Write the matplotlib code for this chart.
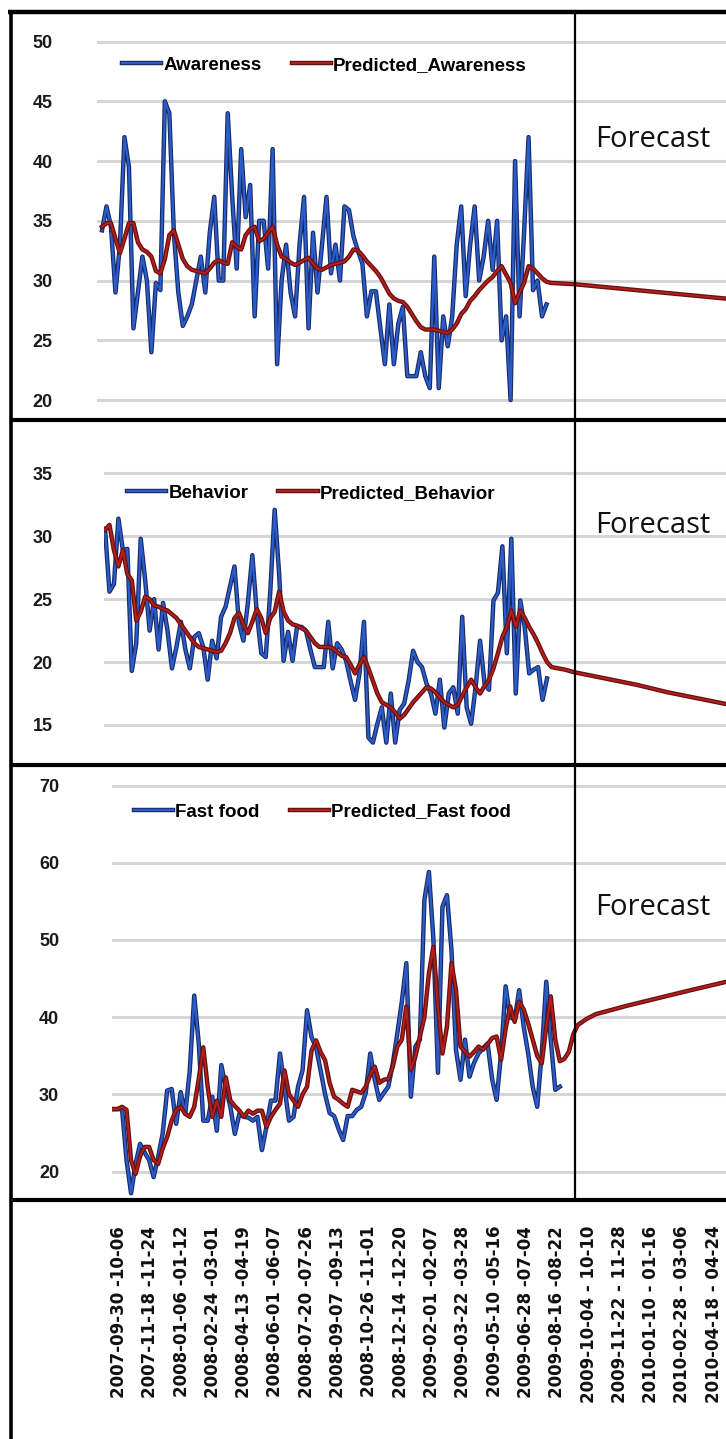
import numpy as np
import matplotlib
matplotlib.use('Agg')
import matplotlib.pyplot as plt
import matplotlib.patheffects as pe
from matplotlib.lines import Line2D

# ---- data (weekly) ----
awareness = [34.2, 36.2, 34.5, 29, 33, 42, 39.5, 26, 29, 32,
             30, 24, 29.8, 29.2, 45, 44, 34, 29, 26.2, 27,
             28, 30, 32, 29, 34, 37, 30, 30, 44, 37,
             31, 41, 35.3, 38, 27, 35, 35, 31, 41, 23,
             30, 33, 29, 27, 33, 37, 26, 34, 29, 33,
             37, 30.6, 33, 30, 36.2, 35.9, 33.7, 32.5, 31.4, 27,
             29.1, 29.1, 26, 23, 28, 23, 26.4, 27.8, 22, 22,
             22, 24, 22, 21, 32, 21, 27, 24.5, 27, 33,
             36.2, 28.7, 33, 36.2, 30, 32, 35, 30.9, 35, 25,
             27, 20, 40, 27, 34, 42, 29.2, 30, 27, 28]
awareness_pred = [34.5, 34.8, 34.8, 33.5, 32.3, 33.5, 34.8, 34.8, 33.2, 32.6,
                  32.4, 32, 30.8, 30.6, 31.8, 33.8, 34.2, 33, 31.8, 31.2,
                  30.9, 30.8, 30.7, 30.6, 31, 31.5, 31.7, 31.5, 31.4, 33.2,
                  32.8, 32.6, 33.8, 34.3, 34.5, 33.3, 33.5, 34, 34.5, 33,
                  32, 31.8, 31.5, 31.3, 31.5, 31.7, 31.9, 31.4, 31, 30.9,
                  31.1, 31.3, 31.4, 31.5, 31.6, 32, 32.6, 32.5, 32.1, 31.6,
                  31.2, 30.8, 30.3, 29.6, 28.9, 28.5, 28.3, 28.2, 27.8, 27.2,
                  26.6, 26.1, 25.9, 25.9, 25.9, 25.8, 25.7, 25.6, 25.9, 26.4,
                  27.2, 27.6, 28.3, 28.7, 29.2, 29.6, 30, 30.3, 30.8, 31.2,
                  30.5, 29.8, 28.1, 29, 29.8, 31.2, 31, 30.6, 30.2, 29.9]
awareness_fc_week = [100, 105, 112, 119, 126, 133, 140]
awareness_fc = [29.8, 29.7, 29.45, 29.2, 28.95, 28.7, 28.45]

behavior = [30.6, 25.6, 26.2, 31.4, 28.9, 29, 19.3, 21.5, 29.8, 26.5,
            22.5, 25, 21, 24.7, 22.5, 19.5, 21.2, 23.2, 21, 19.5,
            22, 22.3, 21.2, 18.6, 21.7, 20.3, 23.6, 24.4, 26, 27.6,
            23.1, 21.7, 24.7, 28.5, 23.9, 20.7, 20.4, 25.5, 32.1, 27,
            20.1, 22.4, 20.1, 22.8, 22.8, 22.5, 21, 19.6, 19.6, 19.6,
            23.2, 19.5, 21.5, 21, 20.1, 18.5, 17, 19.1, 23.2, 14,
            13.6, 15.1, 16.4, 13.6, 17.5, 13.6, 16.2, 16.7, 18.5, 20.9,
            20, 19.6, 18.3, 17.5, 15.9, 18.6, 14.8, 17.5, 18, 15.9,
            23.6, 16.4, 15.1, 18, 21.7, 18.3, 17.8, 24.9, 25.5, 29.2,
            20.7, 29.8, 17.5, 24.9, 22.8, 19.1, 19.4, 19.6, 17, 18.7]
behavior_pred = [30.5, 30.9, 28.9, 27.6, 28.9, 27, 26.5, 23.3, 24, 25.2,
                 25, 24.5, 24.4, 24.2, 24.1, 23.8, 23.5, 23, 22.5, 22,
                 21.5, 21.2, 21.1, 21, 20.9, 20.8, 20.9, 21.5, 22.3, 23.5,
                 23.9, 23, 22.3, 23.2, 24.2, 23.5, 22.3, 23.5, 24, 25.6,
                 24, 23.3, 23, 22.9, 22.7, 22.5, 22, 21.5, 21.2, 21.2,
                 21.2, 21.1, 20.8, 20.5, 20.4, 19.8, 19.1, 19.8, 20.4, 19.5,
                 18.5, 17.5, 16.8, 16.6, 16.4, 16, 15.5, 15.8, 16.3, 16.8,
                 17.2, 17.6, 18, 17.9, 17.6, 17.2, 16.8, 16.6, 16.4, 16.6,
                 17.3, 18, 18.6, 18, 17.5, 18.1, 18.6, 19.5, 20.7, 22,
                 22.8, 24.1, 22.8, 24.1, 23.5, 22.8, 22.2, 21.5, 20.7, 20]
behavior_fc_week = [100, 103, 105, 112, 119, 126, 133, 140]
behavior_fc = [19.6, 19.4, 19.2, 18.7, 18.2, 17.6, 17.1, 16.6]

fastfood = [28.1, 28.1, 28.1, 21.5, 17.2, 21, 23.6, 22.5, 21.5, 19.3,
            21.9, 24.9, 30.5, 30.7, 26.2, 30.3, 27.5, 33, 42.8, 36.6,
            26.6, 26.6, 29.7, 25.3, 33.8, 30.9, 28.4, 24.9, 27.5, 27.1,
            27, 26.6, 27.1, 22.8, 25.8, 29.2, 29.2, 35.3, 30.9, 26.6,
            27.1, 31, 33.1, 40.9, 37.4, 36.1, 33.1, 30, 27.6, 27.2,
            25.5, 24.1, 27.2, 27.2, 28, 28.4, 30.2, 35.3, 31.9, 29.3,
            30.2, 31, 34, 37.9, 42, 47, 29.7, 36.2, 37.1, 55.2,
            58.8, 50, 32.8, 54.3, 55.8, 48.7, 35.8, 31.9, 37.1, 32.3,
            34.1, 35.3, 36, 36.6, 32, 29.3, 35.3, 44, 40, 39.7,
            43.5, 38.8, 35.3, 31, 28.4, 35.3, 44.6, 37.1, 30.6, 31]
fastfood_pred = [28.1, 28.1, 28.4, 28, 21.5, 19.7, 22, 23.2, 23.2, 21.5,
                 21, 23, 24.5, 26.6, 28, 28.4, 27.5, 27.1, 28.4, 32,
                 36.1, 30.9, 27.1, 29.2, 27.1, 32.2, 29.2, 28.5, 27.9, 27.1,
                 27.9, 27.5, 27.9, 27.9, 25.8, 27.1, 28, 28.8, 33.1, 30,
                 29.2, 28.4, 30, 31, 35.7, 37, 35.5, 34.4, 31.5, 29.7,
                 29.3, 28.8, 28.4, 30.6, 30.4, 30.2, 31, 32.5, 33.6, 31.5,
                 31.9, 32, 33.6, 36.2, 37.1, 41.4, 33.2, 34.9, 37.5, 40,
                 45.7, 49.1, 41.4, 35.3, 38.8, 47, 43.5, 36.2, 35.5, 34.9,
                 35.5, 36.2, 35.8, 36.5, 37.3, 37.5, 34.5, 38.5, 41.4, 39.4,
                 42, 41, 39.2, 37.1, 35, 34, 38.8, 42.7, 37.1, 34.3]
fastfood_fc_week = [100, 101, 102, 103, 105, 107, 114, 121, 128, 136]
fastfood_fc = [34.6, 35.5, 37.8, 39, 39.8, 40.4, 41.5, 42.5, 43.5, 44.6]

week_labels = ['2007-09-30 -10-06', '2007-11-18 -11-24', '2008-01-06 -01-12',
               '2008-02-24 -03-01', '2008-04-13 -04-19', '2008-06-01 -06-07',
               '2008-07-20 -07-26', '2008-09-07 -09-13', '2008-10-26 -11-01',
               '2008-12-14 -12-20', '2009-02-01 -02-07', '2009-03-22 -03-28',
               '2009-05-10 -05-16', '2009-06-28 -07-04', '2009-08-16 -08-22',
               '2009-10-04 - 10-10', '2009-11-22 - 11-28', '2010-01-10 - 01-16',
               '2010-02-28 - 03-06', '2010-04-18 - 04-24']

# ---- layout ----
W, H = 726, 1439
fig = plt.figure(figsize=(W / 100, H / 100), dpi=100)
fig.patch.set_facecolor('white')

def rect(x0, y0, x1, y1):
    return [x0 / W, 1 - y1 / H, (x1 - x0) / W, (y1 - y0) / H]

BLUE, BLUE_EDGE = '#2b5cc9', '#172a66'
RED, RED_EDGE = '#b41f1c', '#661010'
tick_font = dict(family='Liberation Sans', weight='bold', size=13)
leg_font = dict(family='Liberation Sans', weight='bold', size=13.5)

panels = [
    # name, actual, pred, fc weeks, fc, top, bottom, grid x0, first pt x, px/week, ylim, yticks, tick pad, legend xy, forecast y
    ('Awareness', awareness, awareness_pred, awareness_fc_week, awareness_fc,
     12, 420, 97, 102, 4.49, (18.33, 52.47), range(20, 51, 5), 32, (122, 65), 147),
    ('Behavior', behavior, behavior_pred, behavior_fc_week, behavior_fc,
     422, 765, 104, 105, 4.465, (11.82, 39.08), range(15, 36, 5), 37, (127, 493), 533),
    ('Fast food', fastfood, fastfood_pred, fastfood_fc_week, fastfood_fc,
     767, 1200, 112, 113, 4.513, (16.33, 72.4), range(20, 71, 10), 38, (134, 812), 915),
]

for (name, act, pred, fcw, fc, top, bot, gx0, px0, s, ylim, yt, pad, legxy, fy) in panels:
    ax = fig.add_axes(rect(gx0, top, W, bot))
    x = np.arange(len(act))
    ax.plot(x, act, color=BLUE, lw=1.6, label=name,
            path_effects=[pe.Stroke(linewidth=3.2, foreground=BLUE_EDGE), pe.Normal()])
    ax.plot(np.r_[x, fcw], np.r_[pred, fc], color=RED, lw=1.4, label='Predicted_' + name,
            path_effects=[pe.Stroke(linewidth=3.2, foreground=RED_EDGE), pe.Normal()])
    ax.set_xlim((gx0 - px0) / s, (W - px0) / s)
    ax.set_ylim(*ylim)
    ax.set_yticks(list(yt))
    ax.set_xticks([])
    ax.grid(axis='y', color='#d6d6d6', lw=2.2)
    ax.set_axisbelow(True)
    for sp in ax.spines.values():
        sp.set_visible(False)
    ax.tick_params(axis='y', length=0, pad=pad, colors='#1a1a1a')
    for lab in ax.get_yticklabels():
        lab.set_fontproperties(tick_font)
    ax.patch.set_alpha(0)
    ax.legend(loc='center left', bbox_to_anchor=(legxy[0] / W, 1 - legxy[1] / H),
              bbox_transform=fig.transFigure, ncol=2, frameon=False,
              handlelength=2.1, handletextpad=0.1, columnspacing=1.6,
              borderpad=0, borderaxespad=0, prop=leg_font)
    fig.text(595 / W, 1 - fy / H, 'Forecast', family='Open Sans', fontsize=21,
             va='baseline', ha='left', color='#111111')

# date labels under the panels
lab_ax = fig.add_axes(rect(10, 1222, W, 1223))
lab_ax.set_xlim((10 - 119) / 31.3, (W - 119) / 31.3)
lab_ax.set_xticks(range(len(week_labels)))
lab_ax.set_xticklabels(week_labels, rotation=90, family='DejaVu Sans',
                       weight='bold', fontsize=12, color='#111111')
lab_ax.tick_params(axis='x', length=0, pad=2)
lab_ax.set_yticks([])
lab_ax.set_frame_on(False)

# black frame of the composite
def frame_line(x0, y0, x1, y1, lw):
    fig.add_artist(Line2D([x0 / W, x1 / W], [1 - y0 / H, 1 - y1 / H],
                          color='black', lw=lw, solid_capstyle='butt'))

frame_line(8, 12, W, 12, 3.2)
frame_line(11, 10, 11, H, 2.6)
for yy in (420, 765, 1200):
    frame_line(10, yy, W, yy, 3.0)
frame_line(575, 12, 575, 1200, 1.6)

fig.savefig('out.png', dpi=100, facecolor='white')
